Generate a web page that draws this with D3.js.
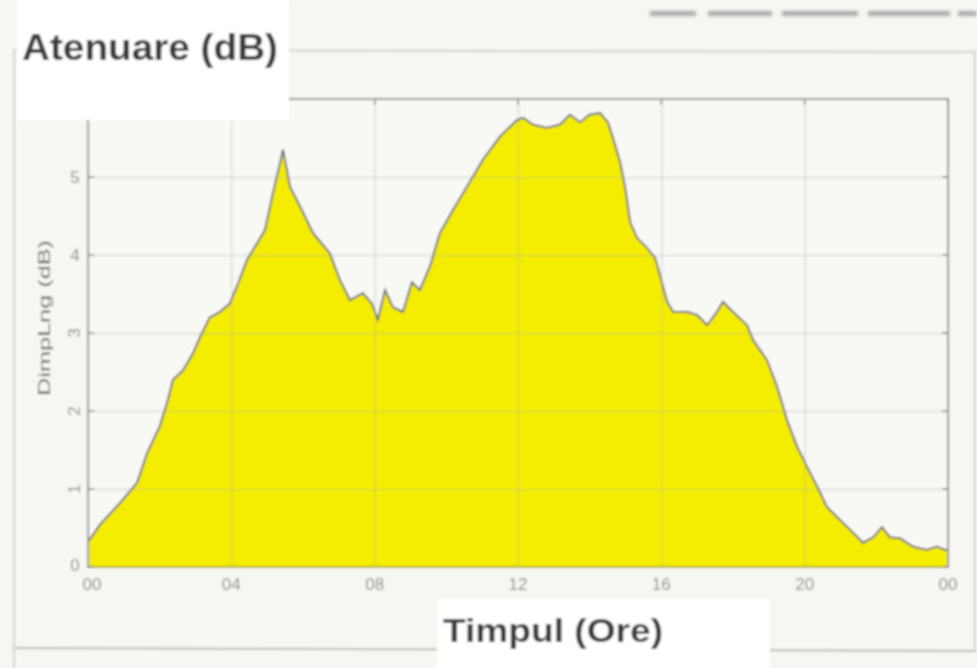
<!DOCTYPE html>
<html>
<head>
<meta charset="utf-8">
<script src="https://cdn.jsdelivr.net/npm/d3@7"></script>
<style>
  body { margin:0; background:#f6f6f2; }
  svg { display:block; }
</style>
</head>
<body>
<div id="chart-area"></div>
<script>

// hours of the day and attenuation in dB
var hours = [0, 0.33, 0.89, 1.37, 1.65, 2.0, 2.23, 2.37, 2.65, 2.93, 3.13, 3.40, 3.68, 3.96,
             4.16, 4.44, 4.72, 4.94, 5.16, 5.36, 5.44, 5.64, 5.92, 6.28, 6.75, 7.03, 7.31,
             7.67, 7.92, 8.09, 8.29, 8.51, 8.79, 9.04, 9.26, 9.54, 9.82, 10.19, 10.57, 11.02,
             11.5, 11.97, 12.14, 12.42, 12.8, 13.17, 13.45, 13.73, 14.0, 14.29, 14.51, 14.65,
             14.85, 14.99, 15.13, 15.32, 15.6, 15.83, 15.96, 16.16, 16.33, 16.72, 17.0, 17.28,
             17.55, 17.72, 18.0, 18.39, 18.56, 18.95, 19.23, 19.51, 19.79, 20.07, 20.35, 20.62,
             20.99, 21.35, 21.63, 21.91, 22.16, 22.38, 22.66, 23.02, 23.41, 23.69, 23.92, 24];

var atten = [0.32, 0.54, 0.82, 1.08, 1.46, 1.80, 2.14, 2.40, 2.52, 2.74, 2.95, 3.20, 3.27, 3.38,
             3.60, 3.94, 4.15, 4.32, 4.79, 5.18, 5.35, 4.87, 4.62, 4.28, 4.02, 3.68, 3.42,
             3.51, 3.38, 3.17, 3.55, 3.33, 3.27, 3.65, 3.55, 3.85, 4.28, 4.58, 4.87, 5.22,
             5.52, 5.73, 5.76, 5.67, 5.63, 5.67, 5.80, 5.70, 5.80, 5.82, 5.70, 5.50,
             5.19, 4.86, 4.42, 4.22, 4.09, 3.96, 3.74, 3.40, 3.27, 3.27, 3.23, 3.10,
             3.27, 3.40, 3.27, 3.10, 2.91, 2.65, 2.31, 1.88, 1.54, 1.28, 1.03, 0.77,
             0.60, 0.44, 0.31, 0.38, 0.51, 0.38, 0.37, 0.26, 0.22, 0.26, 0.22, 0.22];

var xTicks = [0, 4, 8, 12, 16, 20, 24];
var xTickLabels = ["00", "04", "08", "12", "16", "20", "00"];
var yTicks = [0, 1, 2, 3, 4, 5];
var yTickLabels = ["0", "1", "2", "3", "4", "5"];
var yRotated = [false, true, true, true, false, false];

var title = "Atenuare (dB)";
var xTitle = "Timpul (Ore)";
var yTitle = "DimpLng (dB)";

var total_width = 977;
var total_height = 668;

var svg = d3.select('#chart-area').append('svg')
            .attr("width", total_width)
            .attr("height", total_height)
            .attr("font-family", "Liberation Sans, Arial, sans-serif");

var defs = svg.append("defs");
defs.append("filter").attr("id", "soft")
    .attr("filterUnits", "userSpaceOnUse")
    .attr("x", 0).attr("y", 0).attr("width", total_width).attr("height", total_height)
    .append("feGaussianBlur").attr("stdDeviation", 0.8);
defs.append("filter").attr("id", "softer")
    .attr("filterUnits", "userSpaceOnUse")
    .attr("x", 600).attr("y", 0).attr("width", 377).attr("height", 40)
    .append("feGaussianBlur").attr("stdDeviation", 1.8);

var page = svg.append("g").attr("filter", "url(#soft)");

page.append("rect")
    .attr("width", total_width).attr("height", total_height)
    .attr("fill", "#f6f6f2");

// scanned frame around the figure
page.append("path")
    .attr("d", "M14,668 L14,50 L975,52 L975,652")
    .attr("fill", "none").attr("stroke", "#d2d2cf").attr("stroke-width", 2);
page.append("path")
    .attr("d", "M15,648 L975,651")
    .attr("fill", "none").attr("stroke", "#bdbdba").attr("stroke-width", 2);

// faint cut-off caption on the top right
var caption = page.append("g").attr("filter", "url(#softer)").attr("fill", "#8c8c8c").attr("opacity", 0.75);
[[650, 696], [708, 772], [782, 858], [868, 950], [958, 977]].forEach(function(s){
    caption.append("rect").attr("x", s[0]).attr("width", s[1] - s[0])
           .attr("y", 11).attr("height", 5);
});

var x = d3.scaleLinear().domain([0, 24]).range([88, 948]);
var y = d3.scaleLinear().domain([0, 6]).range([567, 99]);

var chart = page.append("g");

chart.append("rect")
     .attr("x", x(0)).attr("y", y(6))
     .attr("width", x(24) - x(0)).attr("height", y(0) - y(6))
     .attr("fill", "#f8f8f5");

var data = hours.map(function(h, i){ return {h: h, v: atten[i]}; });

var areaFunction = d3.area()
                     .x(function(d){ return x(d.h); })
                     .y0(y(0))
                     .y1(function(d){ return y(d.v); });

var lineFunction = d3.line()
                     .x(function(d){ return x(d.h); })
                     .y(function(d){ return y(d.v); });

chart.append("path")
     .datum(data)
     .attr("d", areaFunction)
     .attr("fill", "#f4ed00");

chart.append("path")
     .datum(data)
     .attr("d", lineFunction)
     .attr("fill", "none")
     .attr("stroke", "#5d5d70")
     .attr("stroke-width", 1.8);

// grid on top, shows through the yellow
chart.append("g")
     .attr("transform", "translate(0," + y(0) + ")")
     .call(d3.axisBottom(x).tickValues(xTicks).tickSize(-(y(0) - y(6))).tickFormat(""))
     .call(function(g){
        g.select(".domain").remove();
        g.selectAll("line").attr("stroke", "#a8a8a0").attr("stroke-width", 1.5).attr("opacity", 0.35);
     });
chart.append("g")
     .attr("transform", "translate(" + x(0) + ",0)")
     .call(d3.axisLeft(y).tickValues(yTicks.slice(1)).tickSize(-(x(24) - x(0))).tickFormat(""))
     .call(function(g){
        g.select(".domain").remove();
        g.selectAll("line").attr("stroke", "#a8a8a0").attr("stroke-width", 1.5).attr("opacity", 0.35);
     });

// box and inward ticks
chart.append("rect")
     .attr("x", x(0)).attr("y", y(6))
     .attr("width", x(24) - x(0)).attr("height", y(0) - y(6))
     .attr("fill", "none").attr("stroke", "#9a9a98").attr("stroke-width", 2);

chart.append("line")
     .attr("x1", x(0)).attr("x2", x(24)).attr("y1", y(0)).attr("y2", y(0))
     .attr("stroke", "#b8b000").attr("stroke-width", 2);

var tickG = chart.append("g").attr("stroke", "#8a8a88").attr("stroke-width", 1.5);
yTicks.forEach(function(t){
    tickG.append("line").attr("x1", x(0)).attr("x2", x(0) + 6).attr("y1", y(t)).attr("y2", y(t));
    tickG.append("line").attr("x1", x(24)).attr("x2", x(24) - 6).attr("y1", y(t)).attr("y2", y(t));
});
xTicks.forEach(function(t){
    tickG.append("line").attr("x1", x(t)).attr("x2", x(t)).attr("y1", y(6)).attr("y2", y(6) + 6);
});

// tick labels
var xl = chart.append("g").attr("fill", "#8c8c8c").attr("font-size", "17px").attr("text-anchor", "middle");
xTicks.forEach(function(t, i){
    xl.append("text").attr("x", x(t) + (i == 0 ? 4 : 0)).attr("y", y(0) + 23).text(xTickLabels[i]);
});

var yl = chart.append("g").attr("fill", "#8c8c8c").attr("font-size", "17px");
yTicks.forEach(function(t, i){
    var tx = 75, ty = y(t);
    if (i == 0) ty = y(t) - 2;
    var txt = yl.append("text").text(yTickLabels[i]).attr("text-anchor", "middle");
    if (yRotated[i]) {
        txt.attr("transform", "translate(" + (tx + 5) + "," + ty + ") rotate(-90)");
    } else {
        txt.attr("x", tx).attr("y", ty + 6);
    }
});

page.append("text")
    .attr("transform", "translate(50,318) rotate(-90)")
    .attr("text-anchor", "middle")
    .attr("font-size", "17px")
    .attr("fill", "#666666")
    .attr("textLength", 156)
    .attr("lengthAdjust", "spacingAndGlyphs")
    .text(yTitle);

// pasted white labels
page.append("rect").attr("x", 17).attr("y", 0).attr("width", 272).attr("height", 120).attr("fill", "#ffffff");
page.append("path").attr("d", "M14,668 L14,50").attr("stroke", "#d2d2cf").attr("stroke-width", 2);
page.append("text")
    .attr("x", 22).attr("y", 60)
    .attr("font-size", "37px")
    .attr("font-weight", "bold")
    .attr("fill", "#3a3a3a")
    .attr("textLength", 256)
    .attr("lengthAdjust", "spacingAndGlyphs")
    .text(title);

page.append("rect").attr("x", 437).attr("y", 598).attr("width", 333).attr("height", 70).attr("fill", "#ffffff");
page.append("text")
    .attr("x", 443).attr("y", 642)
    .attr("font-size", "33px")
    .attr("font-weight", "bold")
    .attr("fill", "#3a3a3a")
    .attr("textLength", 220)
    .attr("lengthAdjust", "spacingAndGlyphs")
    .text(xTitle);

</script>
</body>
</html>
